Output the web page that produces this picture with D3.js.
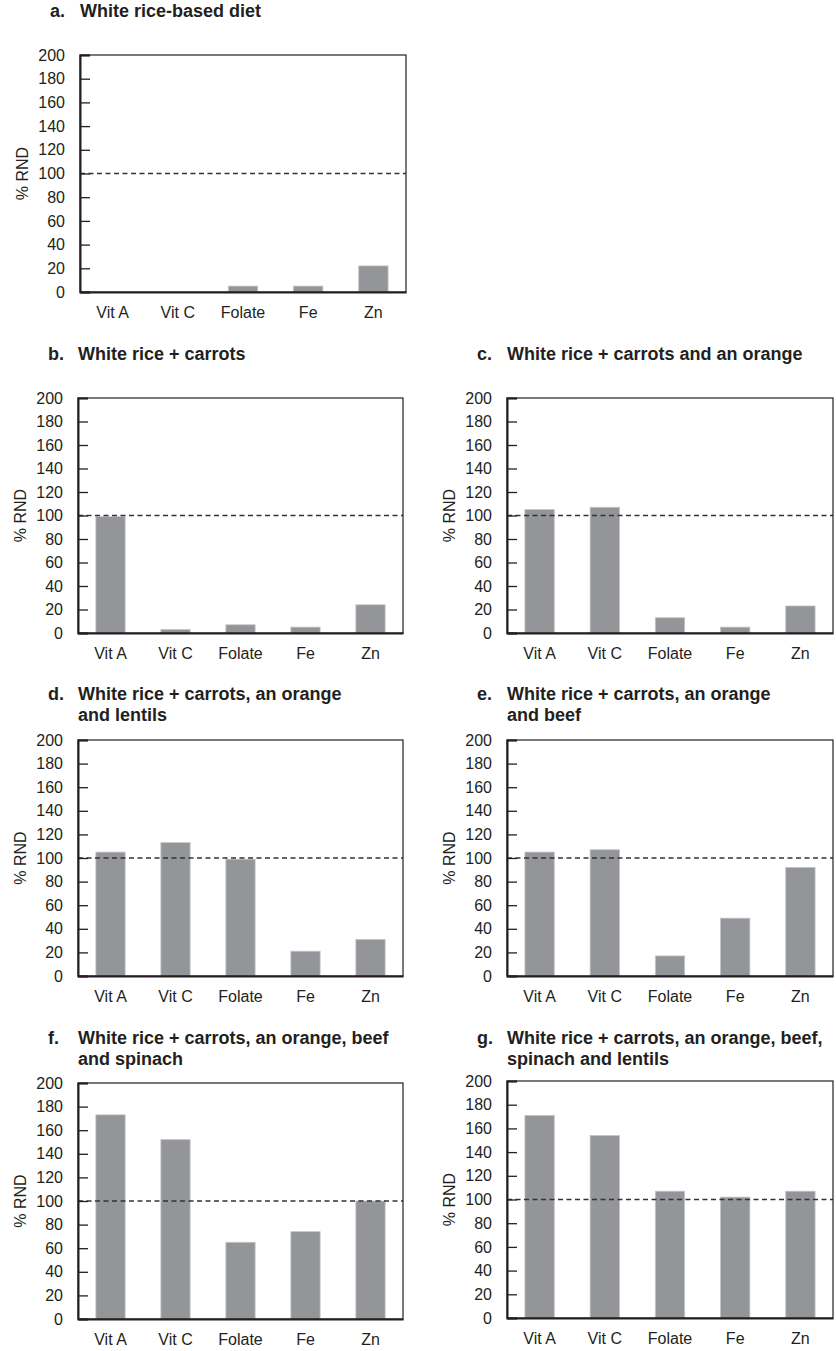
<!DOCTYPE html>
<html><head><meta charset="utf-8">
<script src="https://cdn.jsdelivr.net/npm/d3@7"></script>
<style>
html,body{margin:0;padding:0;background:#fff;}
svg text{font-family:"Liberation Sans",Arial,sans-serif;fill:#231f20;}
</style></head>
<body>
<svg id="chart" width="836" height="1351"></svg>
<script>
const categories = ["Vit A", "Vit C", "Folate", "Fe", "Zn"];
const dietA = [0, 0, 5, 5, 22];
const dietB = [99, 3, 7, 5, 24];
const dietC = [105, 107, 13, 5, 23];
const dietD = [105, 113, 99, 21, 31];
const dietE = [105, 107, 17, 49, 92];
const dietF = [173, 152, 65, 74, 100];
const dietG = [171, 154, 107, 102, 107];
const yTicks = [0, 20, 40, 60, 80, 100, 120, 140, 160, 180, 200];
const referenceLine = 100;
const panelLetters = ["a.", "b.", "c.", "d.", "e.", "f.", "g."];
const panelTitles = [
  ["White rice-based diet"],
  ["White rice + carrots"],
  ["White rice + carrots and an orange"],
  ["White rice + carrots, an orange", "and lentils"],
  ["White rice + carrots, an orange", "and beef"],
  ["White rice + carrots, an orange, beef", "and spinach"],
  ["White rice + carrots, an orange, beef,", "spinach and lentils"]
];
const yLabel = "% RND";
const series = [dietA, dietB, dietC, dietD, dietE, dietF, dietG];

// layout (positions only)
const layout = [
  {l: 80, r: 406, t: 55, b: 292, ty: 17},
  {l: 78, r: 403, t: 398, b: 633, ty: 360},
  {l: 507, r: 833, t: 398, b: 633, ty: 360},
  {l: 78, r: 403, t: 740, b: 976, ty: 700},
  {l: 507, r: 833, t: 740, b: 976, ty: 700},
  {l: 78, r: 403, t: 1083, b: 1319, ty: 1044},
  {l: 507, r: 833, t: 1081, b: 1318, ty: 1044}
];

const svg = d3.select("#chart");

series.forEach((vals, i) => {
  const L = layout[i];
  const g = svg.append("g");
  const x = d3.scaleBand().domain(categories).range([L.l, L.r]).paddingInner(0.55).paddingOuter(0.275);
  const y = d3.scaleLinear().domain([0, 200]).range([L.b, L.t]);

  // title
  const tx = L.l;
  g.append("text").attr("x", tx - 30).attr("y", L.ty)
    .attr("font-size", 18).attr("font-weight", "bold").text(panelLetters[i]);
  panelTitles[i].forEach((line, k) => {
    g.append("text").attr("x", tx).attr("y", L.ty + k * 20.5)
      .attr("font-size", 18).attr("font-weight", "bold").text(line);
  });

  // bars
  g.selectAll("rect.bar").data(vals).join("rect").attr("class", "bar")
    .attr("x", (d, j) => x(categories[j]))
    .attr("width", x.bandwidth())
    .attr("y", d => y(d))
    .attr("height", d => y(0) - y(d))
    .attr("fill", "#939598")
    .attr("stroke", d => d > 0 ? "#c3c4c6" : "none")
    .attr("stroke-width", 0.8);

  // reference dashed line
  g.append("line")
    .attr("x1", L.l).attr("x2", L.r)
    .attr("y1", y(referenceLine)).attr("y2", y(referenceLine))
    .attr("stroke", "#333").attr("stroke-width", 1.3)
    .attr("stroke-dasharray", "5,3.5");

  // frame
  g.append("rect").attr("x", L.l).attr("y", L.t)
    .attr("width", L.r - L.l).attr("height", L.b - L.t)
    .attr("fill", "none").attr("stroke", "#231f20").attr("stroke-width", 1.2);

  // y axis (ticks inward)
  const yAxis = d3.axisLeft(y).tickValues(yTicks).tickSize(-10).tickPadding(15).tickFormat(d3.format("d"));
  const ya = g.append("g").attr("transform", `translate(${L.l},0)`).call(yAxis);
  ya.select(".domain").attr("stroke", "#231f20").attr("stroke-width", 2);
  ya.selectAll(".tick line").attr("stroke", "#231f20").attr("stroke-width", 1.3);
  ya.selectAll(".tick text").attr("font-size", 16).attr("fill", "#231f20")
    .attr("font-family", "Liberation Sans, Arial, sans-serif");

  // x axis
  const xAxis = d3.axisBottom(x).tickSize(0).tickPadding(15);
  const xa = g.append("g").attr("transform", `translate(0,${L.b})`).call(xAxis);
  xa.select(".domain").attr("stroke", "#231f20").attr("stroke-width", 2);
  xa.selectAll(".tick text").attr("font-size", 16).attr("fill", "#231f20")
    .attr("font-family", "Liberation Sans, Arial, sans-serif");

  // y label
  g.append("text")
    .attr("transform", `translate(${L.l - 58},${(L.t + L.b) / 2}) rotate(-90)`)
    .attr("dy", "0.35em")
    .attr("text-anchor", "middle").attr("font-size", 16).text(yLabel);
});
</script>
</body></html>
